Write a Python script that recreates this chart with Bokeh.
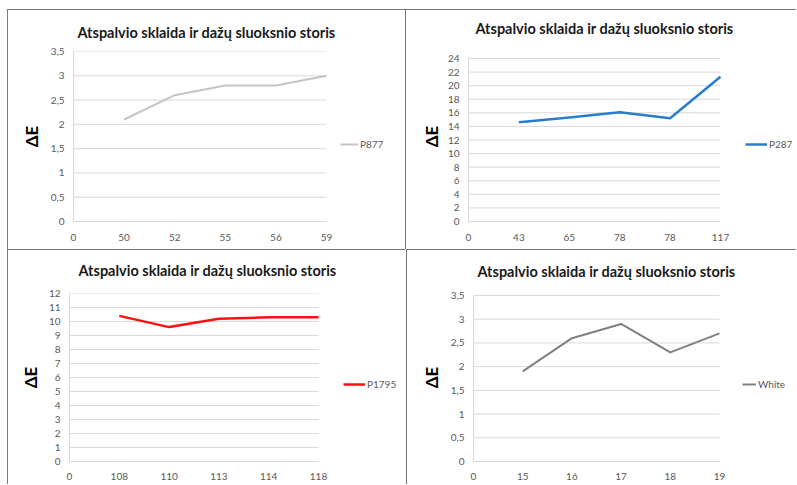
from bokeh.plotting import figure
from bokeh.layouts import row, column
from bokeh.models import FixedTicker, Range1d, Legend, LegendItem, CustomJSTickFormatter
from bokeh.embed import file_html
from bokeh.resources import INLINE

TITLE = "Atspalvio sklaida ir dažų sluoksnio storis"
Y_LABEL = "ΔE"

# Data (x tick labels include the leading empty "0" category)
p877_labels = ["0", "50", "52", "55", "56", "59"]
p877_values = [2.1, 2.6, 2.8, 2.8, 3.0]

p287_labels = ["0", "43", "65", "78", "78", "117"]
p287_values = [14.6, 15.3, 16.1, 15.2, 21.3]

p1795_labels = ["0", "108", "110", "113", "114", "118"]
p1795_values = [10.4, 9.6, 10.2, 10.3, 10.3]

white_labels = ["0", "15", "16", "17", "18", "19"]
white_values = [1.9, 2.6, 2.9, 2.3, 2.7]

yticks_35 = [0, 0.5, 1, 1.5, 2, 2.5, 3, 3.5]
yticks_24 = [0, 2, 4, 6, 8, 10, 12, 14, 16, 18, 20, 22, 24]
yticks_12 = [0, 1, 2, 3, 4, 5, 6, 7, 8, 9, 10, 11, 12]

FONT = "Lato"
TICK_COLOR = "#595959"
GRID_COLOR = "#d9d9d9"
BORDER = "#7a7a7a"


def panel(labels, values, name, color, lw, yticks, width, height, frame_top, plot_box,
          title_standoff, title_offset, label_standoff, x_standoff,
          legend_pos, glyph_w, shadow):
    # plot_box: left edge, pixel row of the top tick, right end of categories, bottom
    left, tick_top, data_right, bottom = plot_box
    frame_right = width - 1
    n = len(labels)
    x_end = (n - 1) * (frame_right - left) / (data_right - left)
    y_end = yticks[-1] * (bottom - frame_top) / (bottom - tick_top)
    p = figure(width=width, height=height, output_backend="svg", toolbar_location=None,
               x_range=Range1d(0, x_end), y_range=Range1d(0, y_end),
               min_border_left=left, min_border_right=width - frame_right,
               min_border_top=frame_top, min_border_bottom=height - bottom)
    p.border_fill_color = None
    p.background_fill_color = None
    p.outline_line_color = None
    p.styles = {"box-shadow": shadow, "background-color": "white"}

    # horizontal gridlines over the category extent only
    p.segment(x0=[0] * len(yticks), x1=[n - 1] * len(yticks), y0=yticks, y1=yticks,
              line_color=GRID_COLOR, line_width=1)

    xs = list(range(1, n))
    r = p.line(xs, values, line_color=color, line_width=lw, line_join="round")

    p.title.text = TITLE
    p.title.align = "left"
    p.title.vertical_align = "top"
    p.title.offset = title_offset
    p.title.text_font = FONT
    p.title.text_font_style = "bold"
    p.title.text_font_size = "14.5px"
    p.title.text_color = "#1a1a1a"
    p.title.standoff = title_standoff

    p.xaxis.ticker = FixedTicker(ticks=list(range(n)))
    p.xaxis.formatter = CustomJSTickFormatter(args=dict(labels=labels),
                                              code="return labels[Math.round(tick)] || '';")
    p.xaxis.bounds = (0, n - 1)
    p.yaxis.ticker = FixedTicker(ticks=yticks)
    p.yaxis.bounds = (0, yticks[-1])
    p.yaxis.formatter = CustomJSTickFormatter(code="return tick.toString().replace('.', ',');")

    for ax in (p.xaxis[0], p.yaxis[0]):
        ax.major_tick_line_color = None
        ax.minor_tick_line_color = None
        ax.major_tick_out = 0
        ax.major_tick_in = 0
        ax.minor_tick_out = 0
        ax.minor_tick_in = 0
        ax.axis_line_color = GRID_COLOR
        ax.major_label_text_font = FONT
        ax.major_label_text_font_size = "10px"
        ax.major_label_text_color = TICK_COLOR
    p.yaxis.major_label_standoff = 9
    p.xaxis.major_label_standoff = x_standoff

    p.yaxis.axis_label = Y_LABEL
    p.yaxis.axis_label_text_font = FONT
    p.yaxis.axis_label_text_font_style = "bold"
    p.yaxis.axis_label_text_font_size = "17px"
    p.yaxis.axis_label_text_color = "#000000"
    p.yaxis.axis_label_standoff = label_standoff

    p.xgrid.visible = False
    p.ygrid.visible = False

    legend = Legend(items=[LegendItem(label=name, renderers=[r])], location=legend_pos)
    legend.border_line_color = None
    legend.background_fill_alpha = 0
    legend.margin = 0
    legend.padding = 0
    legend.glyph_width = glyph_w
    legend.glyph_height = 12
    legend.label_standoff = 2
    legend.label_text_font = FONT
    legend.label_text_font_size = "10px"
    legend.label_text_color = TICK_COLOR
    legend.label_height = 12
    p.add_layout(legend, "center")
    return p


# top-left: canvas x 0..405, y 0..249 ; plot x 73..326, y 51..221
p1 = panel(p877_labels, p877_values, "P877", "#c4c4c4", 2, yticks_35, 405, 249, 51,
           (73, 51, 326, 221), 17, 4, 6, 12, (340 - 73, 71), 18,
           f"inset 7px 9px 0 0 white, inset 8px 10px 0 0 {BORDER}")
# top-right: canvas x 405..796 ; plot x 468..720, y 58..221
p2 = panel(p287_labels, p287_values, "P287", "#2a7dcc", 2.5, yticks_24, 391, 249, 51,
           (63, 58, 315, 221), 25, 7, 3, 12, (745 - 468, 71), 22,
           f"inset 0 9px 0 0 white, inset 1px 10px 0 0 {BORDER}")
# bottom-left: canvas x 0..405, y 249..484 ; plot x 69..318, y 291..461
p3 = panel(p1795_labels, p1795_values, "P1795", "#ff1010", 2.5, yticks_12, 405, 235, 42,
           (69, 42, 318, 212), 25, 9, 5, 11, (343 - 69, 71), 22,
           f"inset 7px 0 0 0 white, inset 8px 1px 0 0 {BORDER}")
# bottom-right: canvas x 405..796 ; plot x 473..719, y 293..461
p4 = panel(white_labels, white_values, "White", "#808080", 2, yticks_35, 391, 235, 42,
           (68, 44, 314, 212), 23, 4, 6, 11, (742 - 473, 71), 14,
           f"inset 1px 0 0 0 white, inset 2px 1px 0 0 {BORDER}")

layout = column(row(p1, p2), row(p3, p4))

open("out.html", "w").write(file_html(layout, INLINE))
